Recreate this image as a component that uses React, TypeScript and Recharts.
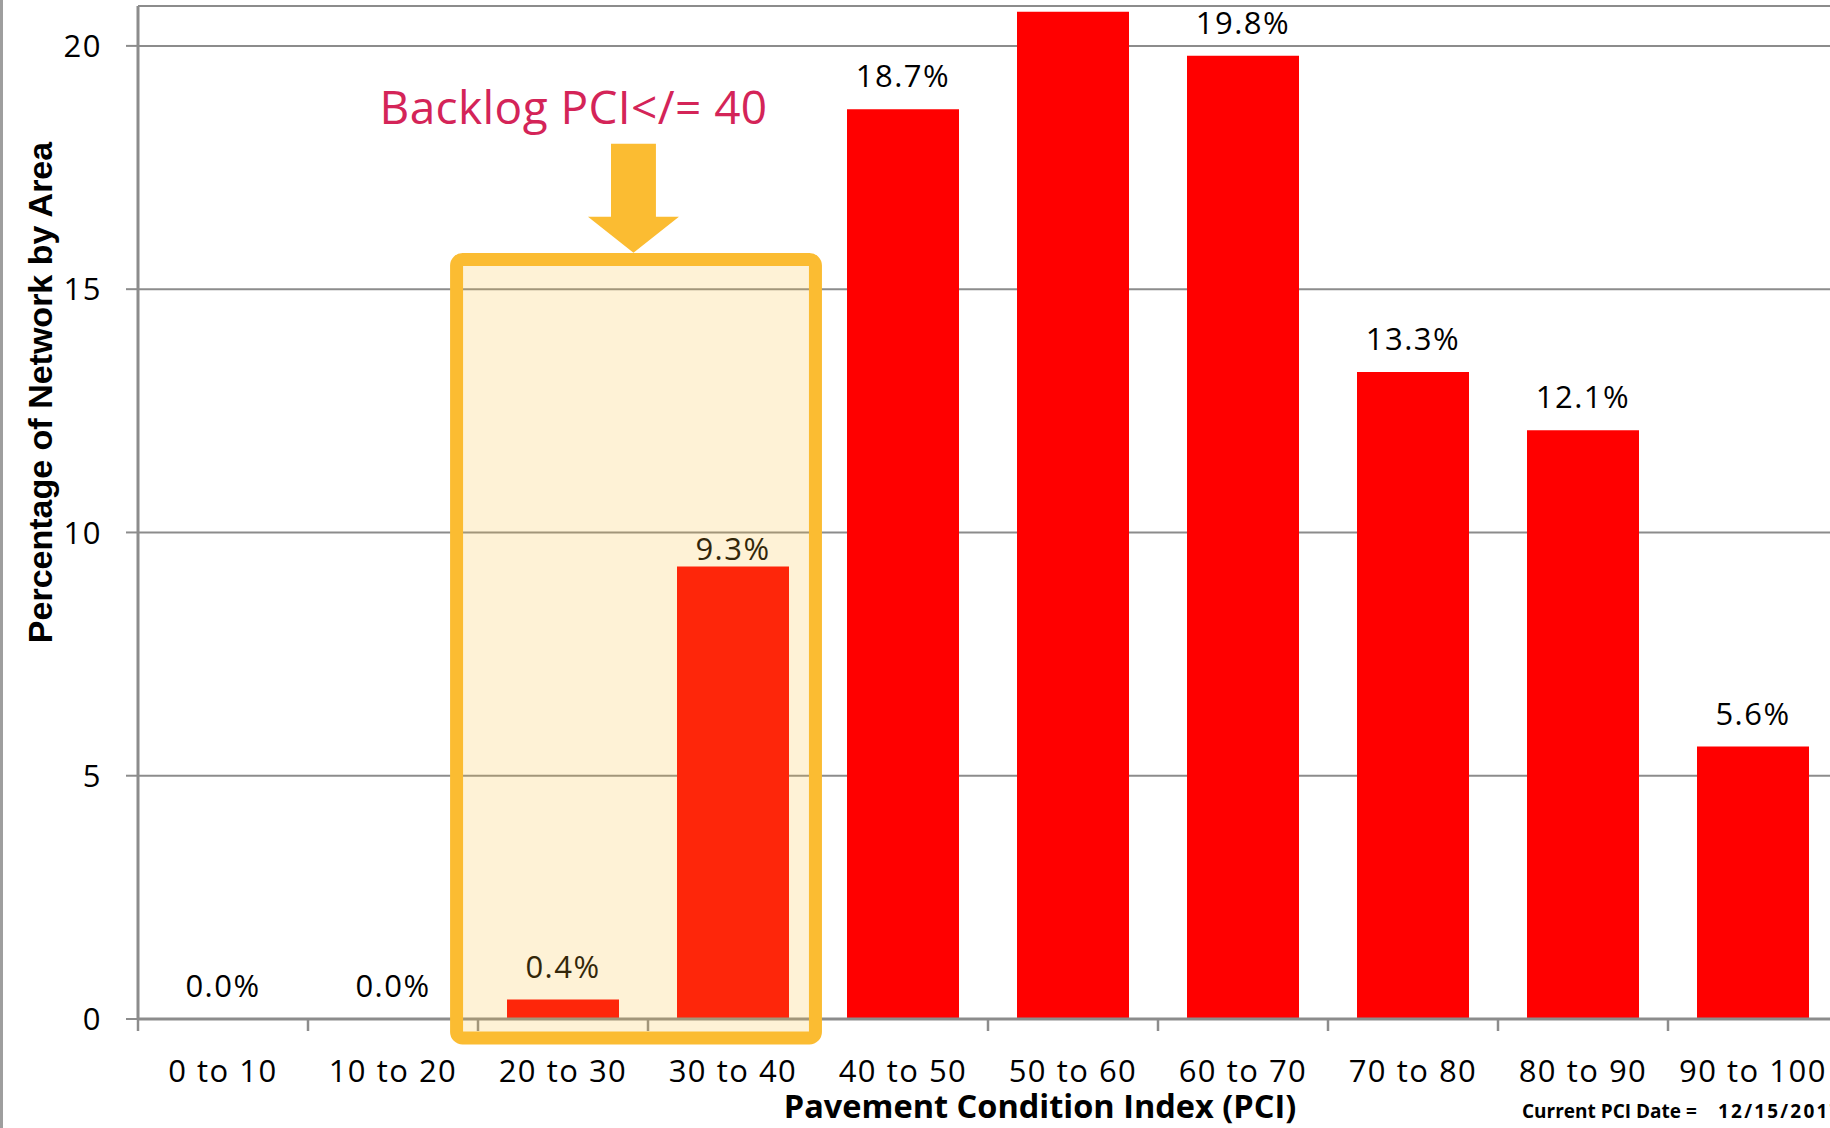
import React from 'react';
import {
  ComposedChart,
  Bar,
  Line,
  XAxis,
  YAxis,
  CartesianGrid,
  LabelList,
  ReferenceArea,
  ReferenceDot,
} from 'recharts';

// ---------- data ----------
const categories = [
  '0 to 10',
  '10 to 20',
  '20 to 30',
  '30 to 40',
  '40 to 50',
  '50 to 60',
  '60 to 70',
  '70 to 80',
  '80 to 90',
  '90 to 100',
];
const percentages = [0.0, 0.0, 0.4, 9.3, 18.7, 20.7, 19.8, 13.3, 12.1, 5.6];
const yTicks = [0, 5, 10, 15, 20];
const yDomain = [0, 20.82];
const pciDomain = [0, 100];

// annotation geometry in data units (PCI on x, percent on y)
const backlogBoxX = [18.74, 39.85];
const backlogBoxY = [-0.39, 15.61];
const arrowX = [26.47, 31.82];
const arrowY = [15.75, 17.99];
const annotationAt = [25.62, 18.4];
const annotationText = 'Backlog PCI</= 40';

const xTitle = 'Pavement Condition Index (PCI)';
const yTitle = 'Percentage of Network by Area';
const dateLabel = 'Current PCI Date =';
const dateValue = '12/15/2017';

const data = categories.map((c, i) => ({
  category: c,
  value: percentages[i],
  pciFrom: parseFloat(c),
}));

// ---------- styles ----------
const GRAY = '#8C8C8C';
const RED = '#FF0000';
const ORANGE = '#FBBC32';
const TICK_FONT = '"Open Sans", sans-serif';
const LABEL_GAP = 22;
const LABEL_GAP_BY_CATEGORY: Record<string, number> = { '30 to 40': 7 };

const fmt = (v: any) => `${Number(v).toFixed(1)}%`;

const XTick = (props: any) => {
  const { x, y, payload } = props;
  const half = payload && typeof payload.offset === 'number' && payload.offset > 0 ? payload.offset : 85;
  return (
    <g>
      <line x1={x - half} x2={x - half} y1={y} y2={y + 12} stroke={GRAY} strokeWidth={2.5} />
      <text
        x={x}
        y={y + 63}
        textAnchor="middle"
        fontFamily={TICK_FONT}
        fontSize={31}
        letterSpacing={1.5}
        fill="#000"
      >
        {payload.value}
      </text>
    </g>
  );
};

const YTick = (props: any) => {
  const { x, y, payload } = props;
  return (
    <text
      x={x}
      y={y}
      dy="0.357em"
      textAnchor="end"
      fontFamily={TICK_FONT}
      fontSize={31}
      letterSpacing={1.5}
      fill="#000"
    >
      {payload.value}
    </text>
  );
};

const PointLabel = (props: any) => {
  const { x, y, value, index } = props;
  const cat = categories[index];
  const gap = cat in LABEL_GAP_BY_CATEGORY ? LABEL_GAP_BY_CATEGORY[cat] : LABEL_GAP;
  return (
    <text
      x={Number(x)}
      y={Number(y) - gap}
      textAnchor="middle"
      fontFamily={TICK_FONT}
      fontSize={31}
      letterSpacing={1.5}
      fill="#000"
    >
      {fmt(value)}
    </text>
  );
};

const XTitle = (props: any) => {
  const vb = props.viewBox || {};
  const cx = vb.x + vb.width / 2 + 52;
  const base = vb.y + 99;
  return (
    <g>
      <text
        x={cx}
        y={base}
        textAnchor="middle"
        fontFamily={TICK_FONT}
        fontWeight="bold"
        fontSize={32.5}
        fill="#000"
      >
        {xTitle}
      </text>
      <text x={1522} y={base} fontFamily={TICK_FONT} fontWeight="bold" fontSize={19} fill="#000">
        {dateLabel}
      </text>
      <text
        x={1718}
        y={base}
        fontFamily={TICK_FONT}
        fontWeight="bold"
        fontSize={19}
        letterSpacing={2.2}
        fill="#000"
      >
        {dateValue}
      </text>
    </g>
  );
};

const YTitle = (props: any) => {
  const vb = props.viewBox || {};
  const x = vb.x + 52;
  const y = vb.y + vb.height / 2 - 120;
  return (
    <text
      x={x}
      y={y}
      textAnchor="middle"
      transform={`rotate(-90, ${x}, ${y})`}
      fontFamily='"Liberation Sans", Arial, sans-serif'
      fontWeight="bold"
      fontSize={34}
      fill="#000"
    >
      {yTitle}
    </text>
  );
};

const BoxShape = (props: any) => {
  const { x, y, width, height } = props;
  return (
    <rect
      x={x}
      y={y}
      width={width}
      height={height}
      rx={6}
      ry={6}
      fill="rgba(251,188,50,0.2)"
      stroke={ORANGE}
      strokeWidth={13}
    />
  );
};

const ArrowShape = (props: any) => {
  const { x, y, width, height } = props;
  const sl = x + width * 0.253;
  const sr = x + width * 0.747;
  const hb = y + height * 0.67;
  const pts = [
    [sl, y],
    [sr, y],
    [sr, hb],
    [x + width, hb],
    [x + width / 2, y + height],
    [x, hb],
    [sl, hb],
  ]
    .map((p) => p.join(','))
    .join(' ');
  return <polygon points={pts} fill={ORANGE} />;
};

const AnnotationText = (props: any) => {
  const { cx, cy } = props;
  return (
    <text
      x={cx}
      y={cy}
      textAnchor="middle"
      fontFamily={TICK_FONT}
      fontSize={46}
      letterSpacing={0.4}
      fill="#D42458"
    >
      {annotationText}
    </text>
  );
};

export default function App() {
  return (
    <div
      style={{
        position: 'fixed',
        left: 0,
        top: 0,
        width: 1830,
        height: 1128,
        overflow: 'hidden',
        background: '#fff',
      }}
    >
      <div
        style={{
          position: 'absolute',
          left: 0,
          top: 0,
          width: 3,
          height: 1128,
          background: '#9E9E9E',
          zIndex: 2,
        }}
      />
      <ComposedChart
        width={1850}
        height={1128}
        data={data}
        margin={{ top: 6, right: 12, bottom: 0, left: 0 }}
        barSize={112}
      >
        <CartesianGrid vertical={false} stroke={GRAY} strokeWidth={2} xAxisId="cat" />
        <XAxis
          xAxisId="cat"
          dataKey="category"
          interval={0}
          height={109}
          tickSize={0}
          tickMargin={0}
          tickLine={false}
          axisLine={{ stroke: GRAY, strokeWidth: 3 }}
          tick={<XTick />}
          label={<XTitle />}
        />
        <XAxis
          xAxisId="pci"
          dataKey="pciFrom"
          type="number"
          domain={pciDomain}
          allowDataOverflow
          hide
        />
        <YAxis
          width={138}
          domain={yDomain}
          ticks={yTicks}
          tickSize={12}
          tickMargin={24}
          tickLine={{ stroke: GRAY, strokeWidth: 2 }}
          axisLine={{ stroke: GRAY, strokeWidth: 3 }}
          tick={<YTick />}
          label={<YTitle />}
          allowDataOverflow
        />
        <Bar dataKey="value" xAxisId="cat" fill={RED} isAnimationActive={false} />
        <Line
          dataKey="value"
          xAxisId="cat"
          stroke="none"
          dot={false}
          activeDot={false}
          isAnimationActive={false}
        >
          <LabelList dataKey="value" content={<PointLabel />} />
        </Line>
        <ReferenceArea
          xAxisId="pci"
          x1={arrowX[0]}
          x2={arrowX[1]}
          y1={arrowY[0]}
          y2={arrowY[1]}
          ifOverflow="visible"
          shape={ArrowShape}
        />
        <ReferenceArea
          xAxisId="pci"
          x1={backlogBoxX[0]}
          x2={backlogBoxX[1]}
          y1={backlogBoxY[0]}
          y2={backlogBoxY[1]}
          ifOverflow="visible"
          shape={BoxShape}
          zIndex={2500}
        />
        <ReferenceDot
          xAxisId="pci"
          x={annotationAt[0]}
          y={annotationAt[1]}
          ifOverflow="visible"
          shape={AnnotationText}
        />
      </ComposedChart>
    </div>
  );
}
